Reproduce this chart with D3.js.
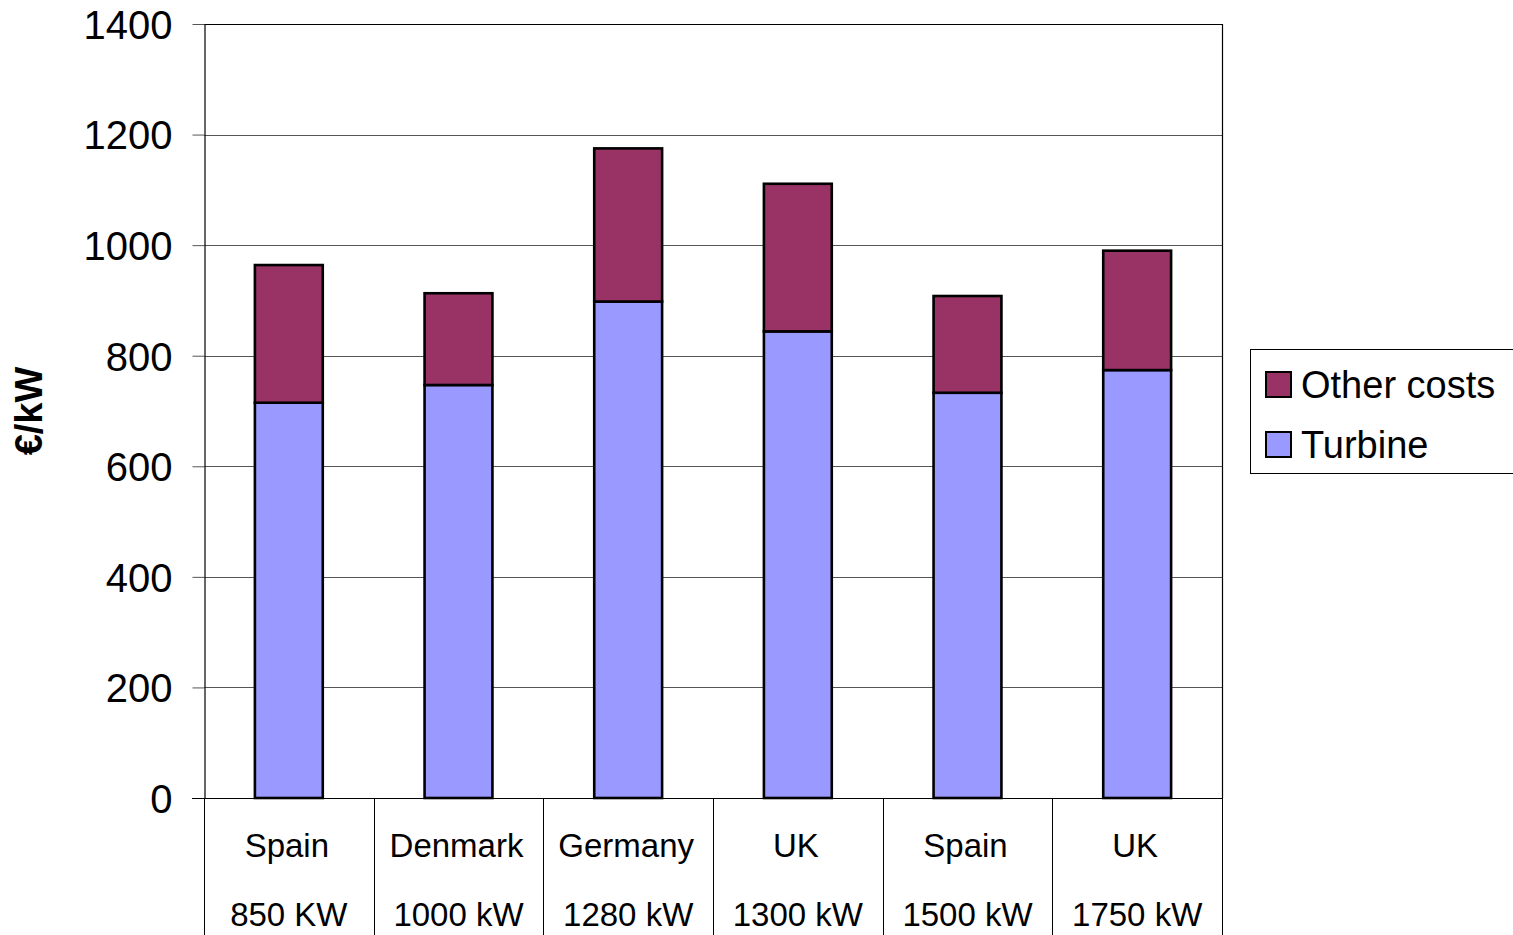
<!DOCTYPE html>
<html>
<head>
<meta charset="utf-8">
<script src="https://cdn.jsdelivr.net/npm/d3@7"></script>
<style>
  html, body { margin: 0; padding: 0; background: #fff; }
  svg { display: block; font-family: "Liberation Sans", Arial, sans-serif; }
</style>
</head>
<body>
<svg id="chart" width="1513" height="935"></svg>
<script>
// Installed wind turbine cost per kW, split into turbine and other costs
const countries = ["Spain", "Denmark", "Germany", "UK", "Spain", "UK"];
const sizes = ["850 KW", "1000 kW", "1280 kW", "1300 kW", "1500 kW", "1750 kW"];
const turbine = [715, 747, 898, 844, 733, 774];
const otherCosts = [249, 166, 277, 267, 175, 216];
const yTicks = [0, 200, 400, 600, 800, 1000, 1200, 1400];
const seriesNames = ["Other costs", "Turbine"];
const seriesColors = ["#993366", "#9999FF"];

const svg = d3.select("#chart");
const plotLeft = 204, plotRight = 1222, plotTop = 24, plotBottom = 798;

const x = d3.scaleBand()
  .domain(d3.range(countries.length))
  .range([plotLeft, plotRight])
  .paddingInner(0.6)
  .paddingOuter(0.3);

const y = d3.scaleLinear().domain([0, 1400]).range([plotBottom, plotTop]);

// gridlines
svg.append("g")
  .selectAll("line")
  .data(yTicks.filter(d => d > 0 && d < 1400))
  .join("line")
  .attr("x1", plotLeft).attr("x2", plotRight)
  .attr("y1", d => Math.round(y(d)) + 0.5)
  .attr("y2", d => Math.round(y(d)) + 0.5)
  .attr("stroke", "#555").attr("stroke-width", 1);

// plot frame (top and right)
svg.append("path")
  .attr("d", `M${plotLeft},${plotTop + 0.5}H${plotRight + 0.5}V${plotBottom}`)
  .attr("fill", "none").attr("stroke", "#000").attr("stroke-width", 1.2);

// y axis
const yAxis = svg.append("g")
  .attr("transform", `translate(${plotLeft + 0.5},0)`)
  .call(d3.axisLeft(y).tickValues(yTicks).tickFormat(d3.format("d"))
    .tickSize(12).tickPadding(20).tickSizeOuter(0));
yAxis.select(".domain").attr("stroke", "#000").attr("stroke-width", 1.2);
yAxis.selectAll(".tick line").attr("stroke", "#555");
yAxis.selectAll(".tick text")
  .attr("font-size", 40)
  .attr("font-family", "Liberation Sans, Arial, sans-serif")
  .attr("fill", "#000")
  .attr("dy", "0.36em");

// stacked bars
const stackData = countries.map((c, i) => ({ i, other: otherCosts[i], turbine: turbine[i] }));
const stack = d3.stack().keys(["turbine", "other"])(stackData);
const colorOf = { turbine: seriesColors[1], other: seriesColors[0] };

svg.append("g")
  .selectAll("g")
  .data(stack)
  .join("g")
  .attr("fill", d => colorOf[d.key])
  .selectAll("rect")
  .data(d => d)
  .join("rect")
  .attr("x", d => x(d.data.i))
  .attr("width", x.bandwidth())
  .attr("y", d => y(d[1]))
  .attr("height", d => y(d[0]) - y(d[1]))
  .attr("stroke", "#000")
  .attr("stroke-width", 2.6);

// category axis: baseline, separators and two-line labels
const xAxis = svg.append("g");
xAxis.append("line")
  .attr("x1", plotLeft - 12).attr("x2", plotRight)
  .attr("y1", plotBottom + 0.5).attr("y2", plotBottom + 0.5)
  .attr("stroke", "#000").attr("stroke-width", 1.2);

const boundaries = d3.range(countries.length + 1).map(k => plotLeft + k * x.step());
xAxis.selectAll("line.sep")
  .data(boundaries)
  .join("line")
  .attr("class", "sep")
  .attr("x1", d => Math.round(d) + 0.5).attr("x2", d => Math.round(d) + 0.5)
  .attr("y1", plotBottom).attr("y2", 935)
  .attr("stroke", "#000").attr("stroke-width", 1);

xAxis.selectAll("text.country")
  .data(countries)
  .join("text")
  .attr("class", "country")
  .attr("x", (d, i) => x(i) + x.bandwidth() / 2 - 2)
  .attr("y", 857)
  .attr("text-anchor", "middle")
  .attr("font-size", 33)
  .text(d => d);

xAxis.selectAll("text.size")
  .data(sizes)
  .join("text")
  .attr("class", "size")
  .attr("x", (d, i) => x(i) + x.bandwidth() / 2)
  .attr("y", 926)
  .attr("text-anchor", "middle")
  .attr("font-size", 33)
  .text(d => d);

// y axis title
svg.append("text")
  .attr("transform", "translate(42,411) rotate(-90)")
  .attr("text-anchor", "middle")
  .attr("font-size", 38)
  .attr("font-weight", "bold")
  .text("€/kW");

// legend
const legend = svg.append("g");
legend.append("rect")
  .attr("x", 1250.5).attr("y", 349.5)
  .attr("width", 300).attr("height", 124)
  .attr("fill", "#fff").attr("stroke", "#000").attr("stroke-width", 1);

const items = legend.selectAll("g.item")
  .data(seriesNames)
  .join("g")
  .attr("class", "item")
  .attr("transform", (d, i) => `translate(0,${i * 60})`);
items.append("rect")
  .attr("x", 1266).attr("y", 372)
  .attr("width", 25).attr("height", 25)
  .attr("fill", (d, i) => seriesColors[i])
  .attr("stroke", "#000").attr("stroke-width", 2);
items.append("text")
  .attr("x", 1301).attr("y", 398)
  .attr("font-size", 38)
  .text(d => d);
</script>
</body>
</html>
